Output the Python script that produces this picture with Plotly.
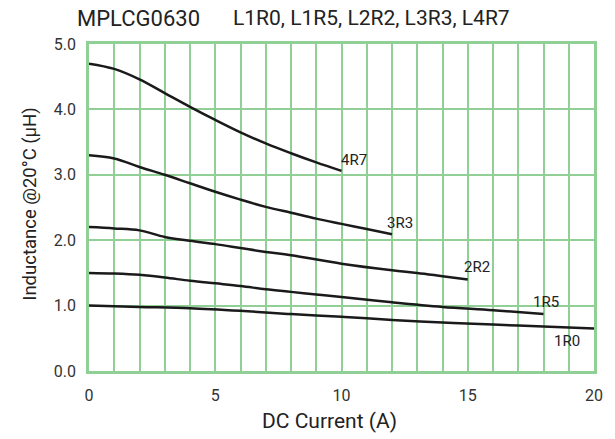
import plotly.graph_objects as go

# Data
x_4r7 = [0, 1, 2, 3, 4, 5, 6, 7, 8, 9, 10]
y_4r7 = [4.70, 4.62, 4.46, 4.25, 4.04, 3.84, 3.65, 3.48, 3.33, 3.19, 3.06]

x_3r3 = [0, 1, 2, 3, 4, 5, 6, 7, 8, 9, 10, 11, 12]
y_3r3 = [3.30, 3.25, 3.12, 3.00, 2.87, 2.74, 2.62, 2.51, 2.42, 2.33, 2.25, 2.17, 2.09]

x_2r2 = [0, 1, 2, 3, 4, 5, 6, 7, 8, 10, 12, 13, 14, 15]
y_2r2 = [2.20, 2.18, 2.15, 2.05, 1.99, 1.94, 1.88, 1.82, 1.77, 1.64, 1.54, 1.50, 1.45, 1.40]

x_1r5 = [0, 1, 2, 3, 4, 5, 6, 7, 8, 9, 10, 12, 14, 16, 18]
y_1r5 = [1.50, 1.49, 1.47, 1.43, 1.38, 1.34, 1.30, 1.25, 1.21, 1.17, 1.13, 1.05, 0.98, 0.93, 0.87]

x_1r0 = [0, 2, 4, 6, 8, 10, 12, 14, 16, 18, 20]
y_1r0 = [1.00, 0.98, 0.96, 0.92, 0.87, 0.83, 0.78, 0.74, 0.71, 0.68, 0.65]

series_names = ["4R7", "3R3", "2R2", "1R5", "1R0"]
label_x = [10.51, 12.33, 15.37, 18.11, 18.92]
label_y = [3.22, 2.26, 1.59, 1.055, 0.46]

x_ticks = [0, 5, 10, 15, 20]
y_ticks = [0, 1, 2, 3, 4, 5]

GRID = "#90cf95"
FONT = "Roboto"
TXT = "#222222"

fig = go.Figure()
for xs, ys, nm in [(x_4r7, y_4r7, "4R7"), (x_3r3, y_3r3, "3R3"),
                   (x_2r2, y_2r2, "2R2"), (x_1r5, y_1r5, "1R5"),
                   (x_1r0, y_1r0, "1R0")]:
    fig.add_trace(go.Scatter(x=xs, y=ys, mode="lines", name=nm,
                             line=dict(color="#1a1a1a", width=2.5, shape="spline", smoothing=1.0),
                             showlegend=False))

for nm, lx, ly in zip(series_names, label_x, label_y):
    fig.add_annotation(x=lx, y=ly, xref="x", yref="y", text=nm, showarrow=False,
                       font=dict(family=FONT, size=15, color=TXT))

fig.add_annotation(x=-0.0276, y=1.0795, xref="paper", yref="paper", text="MPLCG0630",
                   showarrow=False, xanchor="left", yanchor="middle",
                   font=dict(family=FONT, size=22, color=TXT))
fig.add_annotation(x=0.282, y=1.0795, xref="paper", yref="paper",
                   text="L1R0, L1R5, L2R2, L3R3, L4R7",
                   showarrow=False, xanchor="left", yanchor="middle",
                   font=dict(family=FONT, size=21, color=TXT))

# axis titles
fig.add_annotation(x=0.476, y=-0.153, xref="paper", yref="paper", text="DC Current (A)",
                   showarrow=False, xanchor="center", yanchor="middle",
                   font=dict(family=FONT, size=21, color=TXT))
fig.add_annotation(x=-0.116, y=0.51, xref="paper", yref="paper", text="Inductance @20°C (μH)",
                   showarrow=False, xanchor="center", yanchor="middle", textangle=-90,
                   font=dict(family=FONT, size=18.5, color=TXT))

fig.update_xaxes(range=[0, 20], tickvals=x_ticks, ticktext=[str(v) for v in x_ticks],
                 showgrid=True, gridcolor=GRID, gridwidth=2,
                 minor=dict(dtick=1, showgrid=True, gridcolor=GRID, gridwidth=2),
                 zeroline=False, showline=True, linecolor=GRID, linewidth=2.5, mirror=True,
                 ticks="", ticklabelstandoff=8,
                 tickfont=dict(family=FONT, size=16, color="#333"))
fig.update_yaxes(range=[0, 5], tickvals=y_ticks, ticktext=["%.1f" % v for v in y_ticks],
                 showgrid=True, gridcolor=GRID, gridwidth=2,
                 zeroline=False, showline=True, linecolor=GRID, linewidth=2.5, mirror=True,
                 ticks="", ticklabelstandoff=7,
                 tickfont=dict(family=FONT, size=16, color="#333"))

fig.update_layout(width=615, height=439, margin=dict(l=89, r=19, t=44, b=68),
                  paper_bgcolor="white", plot_bgcolor="white")

fig.write_html("out.html", config={"displayModeBar": False},
               post_script="document.body.style.margin='0';document.body.style.overflow='hidden';")
